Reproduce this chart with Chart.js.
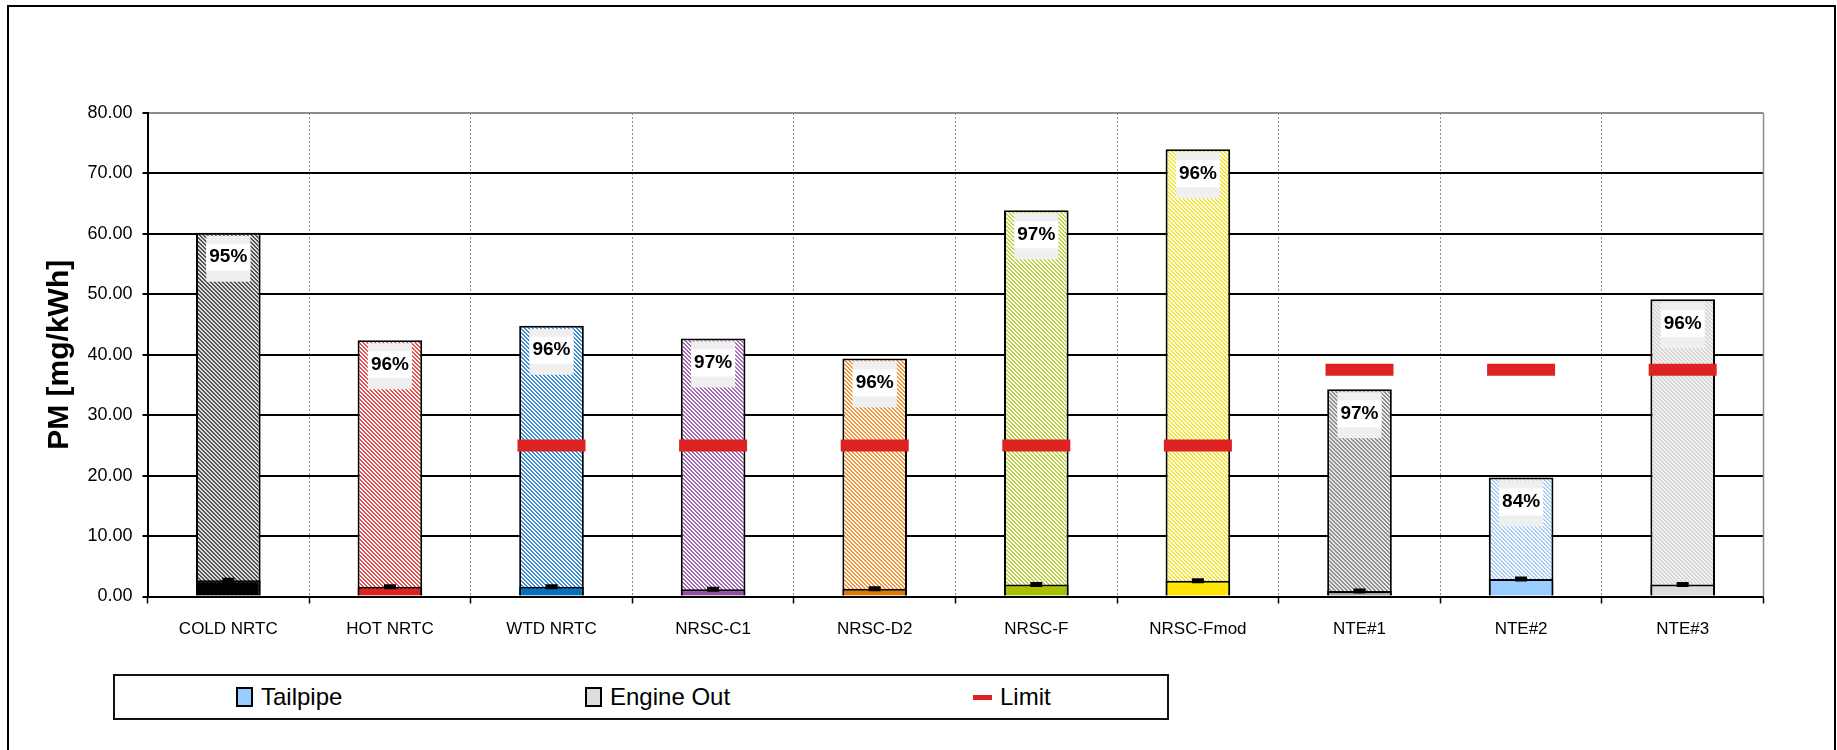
<!DOCTYPE html>
<html>
<head>
<meta charset="utf-8">
<title>PM - Tailpipe x Engine Out</title>
<script src="https://cdn.jsdelivr.net/npm/chart.js@4.4.0/dist/chart.umd.min.js"></script>
<style>
    html, body { margin: 0; padding: 0; background: #fff; overflow: hidden; }
    #moldura {
        position: absolute; left: 7px; top: 5px; width: 1829px; height: 800px;
        border: 2px solid #000; box-sizing: border-box;
    }
    #grafico { position: absolute; left: 0; top: 0; }
    #legenda {
        position: absolute; left: 113px; top: 674px; width: 1056px; height: 46px;
        border: 2px solid #111; box-sizing: border-box; background: #fff;
        font-family: 'Liberation Sans', Arial, sans-serif;
        font-size: 24px; color: #000;
    }
    .item { position: absolute; top: 0; height: 100%; display: flex; align-items: center; white-space: nowrap; }
    .quadrado { width: 17px; height: 20px; border: 2px solid #000; box-sizing: border-box; margin-right: 8px; }
    .traco { width: 19px; height: 5px; background: #dd2222; margin-right: 8px; }
</style>
</head>
<body>
<div id="moldura"></div>
<canvas id="grafico" width="1837" height="750"></canvas>
<div id="legenda">
    <div class="item" style="left: 121px;"><span class="quadrado" style="background:#99ccff;"></span>Tailpipe</div>
    <div class="item" style="left: 470px;"><span class="quadrado" style="background:#dddddd;"></span>Engine Out</div>
    <div class="item" style="left: 858px;"><span class="traco"></span>Limit</div>
</div>
<script>
// Dados do gráfico
const categorias = ['COLD NRTC', 'HOT NRTC', 'WTD NRTC', 'NRSC-C1', 'NRSC-D2', 'NRSC-F', 'NRSC-Fmod', 'NTE#1', 'NTE#2', 'NTE#3'];
const engineOut = [60.2, 42.4, 44.8, 42.7, 39.4, 63.9, 74.0, 34.3, 19.7, 49.2];
const tailpipe = [2.7, 1.6, 1.6, 1.2, 1.3, 2.0, 2.6, 0.9, 2.9, 2.0];
const limite = [null, null, 25, 25, 25, 25, 25, 37.5, 37.5, 37.5];
const reducao = ['95%', '96%', '96%', '97%', '96%', '97%', '96%', '97%', '84%', '96%'];
const eixoY = { min: 0, max: 80, passo: 10 };

// Cores de cada ensaio
const coresTailpipe = ['#000000', '#dd2222', '#0070c0', '#9050a0', '#e07800', '#a8c000', '#ffe600', '#a6a6a6', '#99ccff', '#dcdcdc'];
const coresHachura = [
    ['#555555', '#dcdcdc'], ['#e65050', '#ffffff'], ['#3d8fd8', '#ffffff'], ['#a268b4', '#ffffff'],
    ['#f2963a', '#ffffff'], ['#bcd445', '#ffffff'], ['#f4e432', '#ffffff'], ['#8f8f8f', '#e8e8e8'],
    ['#a6d0fa', '#ffffff'], ['#d6d6d6', '#f2f2f2']
];

const fonte = "'Liberation Sans', Arial, sans-serif";

// Função para criar o padrão hachurado das barras de Engine Out
function criarHachura(corLinha, corFundo) {
    const tela = document.createElement('canvas');
    tela.width = 4;
    tela.height = 4;
    const g = tela.getContext('2d');
    g.fillStyle = corFundo;
    g.fillRect(0, 0, 4, 4);
    g.fillStyle = corLinha;
    for (let x = 0; x < 4; x++) {
        for (let y = 0; y < 4; y++) {
            if ((x - y + 4) % 4 < 2) g.fillRect(x, y, 1, 1);
        }
    }
    return g.createPattern(tela, 'repeat');
}

const padroesEngineOut = coresHachura.map((c) => criarHachura(c[0], c[1]));

// Plugin para a borda direita do quadro e os rótulos de redução
const rotulosReducao = {
    id: 'rotulosReducao',
    beforeDatasetsDraw(chart) {
        const { ctx, chartArea } = chart;
        ctx.save();
        ctx.strokeStyle = '#8c8c8c';
        ctx.lineWidth = 1.5;
        ctx.beginPath();
        ctx.moveTo(chartArea.right, chartArea.top);
        ctx.lineTo(chartArea.right, chartArea.bottom);
        ctx.stroke();
        ctx.restore();
    },
    afterDatasetsDraw(chart) {
        const ctx = chart.ctx;
        const barras = chart.getDatasetMeta(3).data;
        ctx.save();
        barras.forEach((barra, i) => {
            const x = barra.x;
            const topo = barra.y;
            ctx.fillStyle = '#efefef';
            ctx.fillRect(x - 22, topo + 3, 44, 46);
            ctx.fillStyle = '#ffffff';
            ctx.fillRect(x - 22, topo + 11, 44, 27);
            ctx.fillStyle = '#000';
            ctx.font = 'bold 19px ' + fonte;
            ctx.textAlign = 'center';
            ctx.textBaseline = 'middle';
            ctx.fillText(reducao[i], x, topo + 24.5);
        });
        ctx.restore();
    }
};

const contexto = document.getElementById('grafico').getContext('2d');

new Chart(contexto, {
    type: 'bar',
    data: {
        labels: categorias,
        datasets: [
            {
                type: 'line',
                label: 'Limit',
                data: limite,
                showLine: false,
                pointStyle: 'line',
                pointRadius: 34,
                pointHoverRadius: 34,
                pointBorderWidth: 12,
                pointBorderColor: '#dd2222',
                borderColor: '#dd2222',
                order: 0
            },
            {
                type: 'line',
                label: 'Erro',
                data: tailpipe,
                showLine: false,
                pointStyle: 'line',
                pointRadius: 6,
                pointHoverRadius: 6,
                pointBorderWidth: 5,
                pointBorderColor: '#000',
                borderColor: '#000',
                order: 1
            },
            {
                label: 'Tailpipe',
                data: tailpipe,
                backgroundColor: coresTailpipe,
                borderColor: '#000',
                borderWidth: 2,
                grouped: false,
                barPercentage: 0.4,
                categoryPercentage: 1,
                order: 2
            },
            {
                label: 'Engine Out',
                data: engineOut,
                backgroundColor: padroesEngineOut,
                borderColor: '#000',
                borderWidth: 2,
                grouped: false,
                barPercentage: 0.4,
                categoryPercentage: 1,
                order: 3
            }
        ]
    },
    options: {
        responsive: false,
        animation: false,
        devicePixelRatio: 1,
        events: [],
        layout: { padding: { left: 8, top: 113, right: 73.5, bottom: 93.5 } },
        plugins: {
            legend: { display: false },
            tooltip: { enabled: false }
        },
        scales: {
            x: {
                offset: true,
                grid: {
                    offset: true,
                    color: (c) => (c.index === 0 || c.index === categorias.length) ? 'rgba(0,0,0,0)' : '#8c8c8c',
                    lineWidth: 1,
                    tickLength: 7,
                    tickColor: '#000',
                    tickWidth: 1.5
                },
                border: { color: '#000', width: 2, dash: [2, 2] },
                ticks: {
                    color: '#000',
                    font: { family: fonte, size: 17 },
                    padding: 16,
                    maxRotation: 0,
                    autoSkip: false
                },
                afterFit: (escala) => { escala.height = 60; }
            },
            y: {
                min: eixoY.min,
                max: eixoY.max,
                ticks: {
                    stepSize: eixoY.passo,
                    color: '#000',
                    font: { family: fonte, size: 18 },
                    padding: 10,
                    callback: (valor) => Number(valor).toFixed(2)
                },
                grid: {
                    color: (c) => (c.tick && c.tick.value === eixoY.max) ? '#8c8c8c' : '#000',
                    lineWidth: 2,
                    tickLength: 5,
                    tickColor: '#000'
                },
                border: { color: '#000', width: 2 },
                title: {
                    display: true,
                    text: 'PM [mg/kWh]',
                    color: '#000',
                    font: { family: fonte, size: 30, weight: 'bold' },
                    padding: { top: 34, bottom: 0 }
                },
                afterFit: (escala) => { escala.width = 139.5; }
            }
        }
    },
    plugins: [rotulosReducao]
});
</script>
</body>
</html>
